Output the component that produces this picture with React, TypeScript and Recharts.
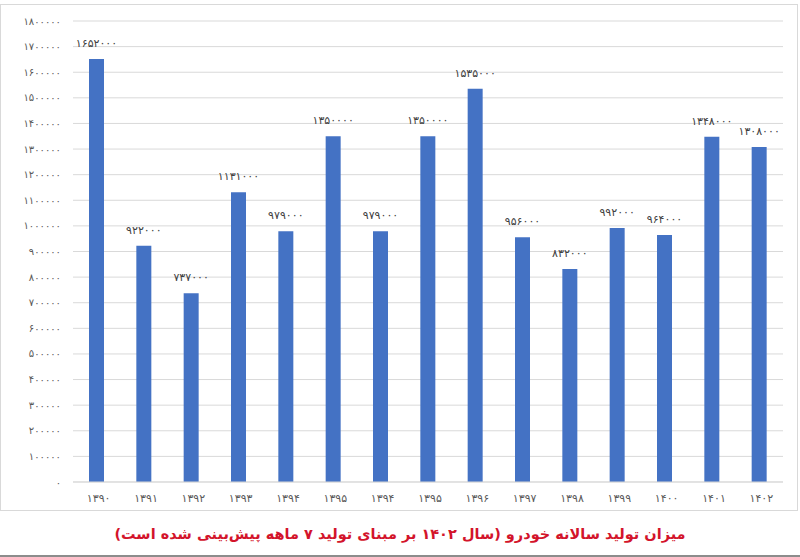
import React from 'react';
import { Bar, BarChart, CartesianGrid, LabelList, XAxis, YAxis } from 'recharts';

// سال‌ها (محور افقی) — همان ترتیب تصویر اصلی
const years = [
  '1390', '1391', '1392', '1393', '1394', '1395', '1394', '1395',
  '1396', '1397', '1398', '1399', '1400', '1401', '1402',
];

// تولید سالانه خودرو
const production = [
  1652000, 922000, 737000, 1131000, 979000, 1350000, 979000, 1350000,
  1535000, 956000, 832000, 992000, 964000, 1348000, 1308000,
];

const yTicks = [
  0, 100000, 200000, 300000, 400000, 500000, 600000, 700000, 800000, 900000,
  1000000, 1100000, 1200000, 1300000, 1400000, 1500000, 1600000, 1700000, 1800000,
];

const TITLE = 'میزان تولید سالانه خودرو (سال ۱۴۰۲ بر مبنای تولید ۷ ماهه پیش‌بینی شده است)';

const BAR_COLOR = '#4472c4';
const GRID_COLOR = '#d9d9d9';
const TICK_COLOR = '#595959';
const FONT = '"DejaVu Sans", "Noto Sans", sans-serif';

/** ارقام لاتین → ارقام فارسی */
const fa = (v: number | string) =>
  String(v).replace(/\d/g, d => '۰۱۲۳۴۵۶۷۸۹'[Number(d)]);

const data = years.map((year, i) => ({ year, value: production[i] }));

// تیک‌ها با فاصله‌ی حروف بیشتر، مثل اکسل
const XTick = (props: any) => {
  const { x, y, payload } = props;
  return (
    <text
      x={x + 2}
      y={y + 4}
      dy="0.71em"
      textAnchor="middle"
      fill={TICK_COLOR}
      fontSize={11}
      fontFamily={FONT}
      style={{ letterSpacing: '4px' }}
    >
      {fa(payload.value)}
    </text>
  );
};

const YTick = (props: any) => {
  const { x, y, payload } = props;
  return (
    <text
      x={x}
      y={y}
      dy="0.355em"
      textAnchor="end"
      fill={TICK_COLOR}
      fontSize={10}
      fontFamily={FONT}
      style={{ letterSpacing: '3px' }}
    >
      {fa(payload.value)}
    </text>
  );
};

export default function App() {
  return (
    <div
      style={{
        position: 'absolute',
        left: 0,
        top: 0,
        width: 800,
        height: 557,
        background: '#fff',
        fontFamily: FONT,
        overflow: 'hidden',
      }}
    >
      {/* کادر نمودار */}
      <div
        style={{
          position: 'absolute',
          left: 0,
          top: 4,
          width: 798,
          height: 507,
          border: `1.5px solid ${GRID_COLOR}`,
          boxSizing: 'border-box',
        }}
      />
      <div style={{ position: 'absolute', left: 0, top: 0 }}>
        <BarChart
          width={800}
          height={512}
          data={data}
          margin={{ top: 21, right: 17, left: 0, bottom: 0 }}
        >
          <CartesianGrid vertical={false} stroke={GRID_COLOR} strokeWidth={1} />
          <XAxis
            dataKey="year"
            allowDuplicatedCategory
            height={30}
            tickLine={false}
            axisLine={{ stroke: GRID_COLOR }}
            tick={<XTick />}
          />
          <YAxis
            type="number"
            domain={[0, 1800000]}
            ticks={yTicks}
            interval={0}
            width={73}
            axisLine={false}
            tickLine={false}
            tickMargin={6}
            tick={<YTick />}
          />
          <Bar dataKey="value" fill={BAR_COLOR} barSize={15} isAnimationActive={false}>
            <LabelList
              dataKey="value"
              position="top"
              offset={12}
              formatter={(v: number) => fa(v)}
              style={{ fontSize: 11, fill: '#404040', fontFamily: FONT }}
            />
          </Bar>
        </BarChart>
      </div>
      {/* عنوان */}
      <div
        dir="rtl"
        style={{
          position: 'absolute',
          left: 0,
          top: 522,
          width: 800,
          textAlign: 'center',
          color: '#d3142b',
          fontWeight: 'bold',
          fontSize: 14.5,
          lineHeight: '24px',
          fontFamily: FONT,
        }}
      >
        {TITLE}
      </div>
      <div
        style={{
          position: 'absolute',
          left: 0,
          top: 555,
          width: 800,
          height: 2,
          background: '#8c8c8c',
        }}
      />
    </div>
  );
}
